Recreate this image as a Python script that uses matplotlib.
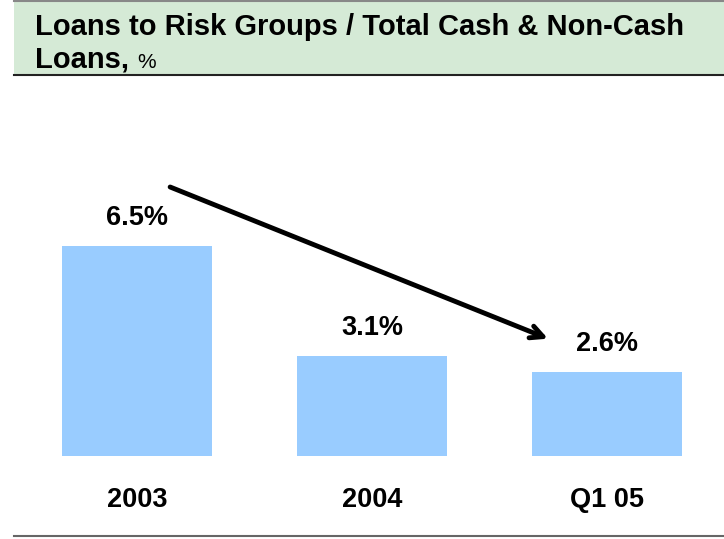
import matplotlib.pyplot as plt
from matplotlib.patches import Rectangle
from matplotlib.lines import Line2D

categories = ['2003', '2004', 'Q1 05']
values = [6.5, 3.1, 2.6]
value_labels = ['6.5%', '3.1%', '2.6%']

W, H = 724, 539
fig = plt.figure(figsize=(W / 100, H / 100), dpi=100)

font = ['Liberation Sans', 'DejaVu Sans']

# title box
fig.patches.append(Rectangle((14 / W, 1 - 75 / H), 1 - 14 / W, 75 / H, transform=fig.transFigure,
                             facecolor='#d5ead6', edgecolor='none', zorder=0))
fig.lines.append(Line2D([14 / W, 1], [1 - 75 / H] * 2, transform=fig.transFigure, color='#222222', lw=1.5))
fig.lines.append(Line2D([14 / W, 1], [1 - 1 / H] * 2, transform=fig.transFigure, color='#888888', lw=1.5))
fig.lines.append(Line2D([14 / W, 1], [3 / H] * 2, transform=fig.transFigure, color='#666666', lw=1.5))

fig.text(35 / W, 1 - 35 / H, 'Loans to Risk Groups / Total Cash & Non-Cash', fontsize=21,
         fontweight='bold', family=font, va='baseline')
t = fig.text(35 / W, 1 - 68 / H, 'Loans, ', fontsize=21, fontweight='bold', family=font, va='baseline')
fig.canvas.draw()
bb = t.get_window_extent()
fig.text(bb.x1 / W, 1 - 68 / H, '%', fontsize=15, family=font, va='baseline')

# bars
ax = fig.add_axes([0, 83 / H, 1, 300 / H])
x = range(len(categories))
ax.bar(x, values, width=0.635, color='#99ccff')
ax.set_xlim(-137 / 235, (W - 137) / 235)
ax.set_ylim(0, 300 / 32.3)
for i, v in enumerate(values):
    ax.annotate(value_labels[i], (i, v), xytext=(0, 11), textcoords='offset points', ha='center',
                va='bottom', fontsize=19.5, fontweight='bold', family=font)
ax.set_xticks(list(x))
ax.set_xticklabels(categories, fontsize=19.5, fontweight='bold', family=font)
ax.tick_params(axis='x', length=0, pad=22)
ax.set_yticks([])
for s in ax.spines.values():
    s.set_visible(False)

# trend arrow
ax.annotate('', xy=(1.76, 3.6), xytext=(0.13, 8.36),
            arrowprops=dict(arrowstyle='->,head_length=0.9,head_width=0.45', lw=3.5, color='black'))

fig.savefig('out.png', dpi=100)
